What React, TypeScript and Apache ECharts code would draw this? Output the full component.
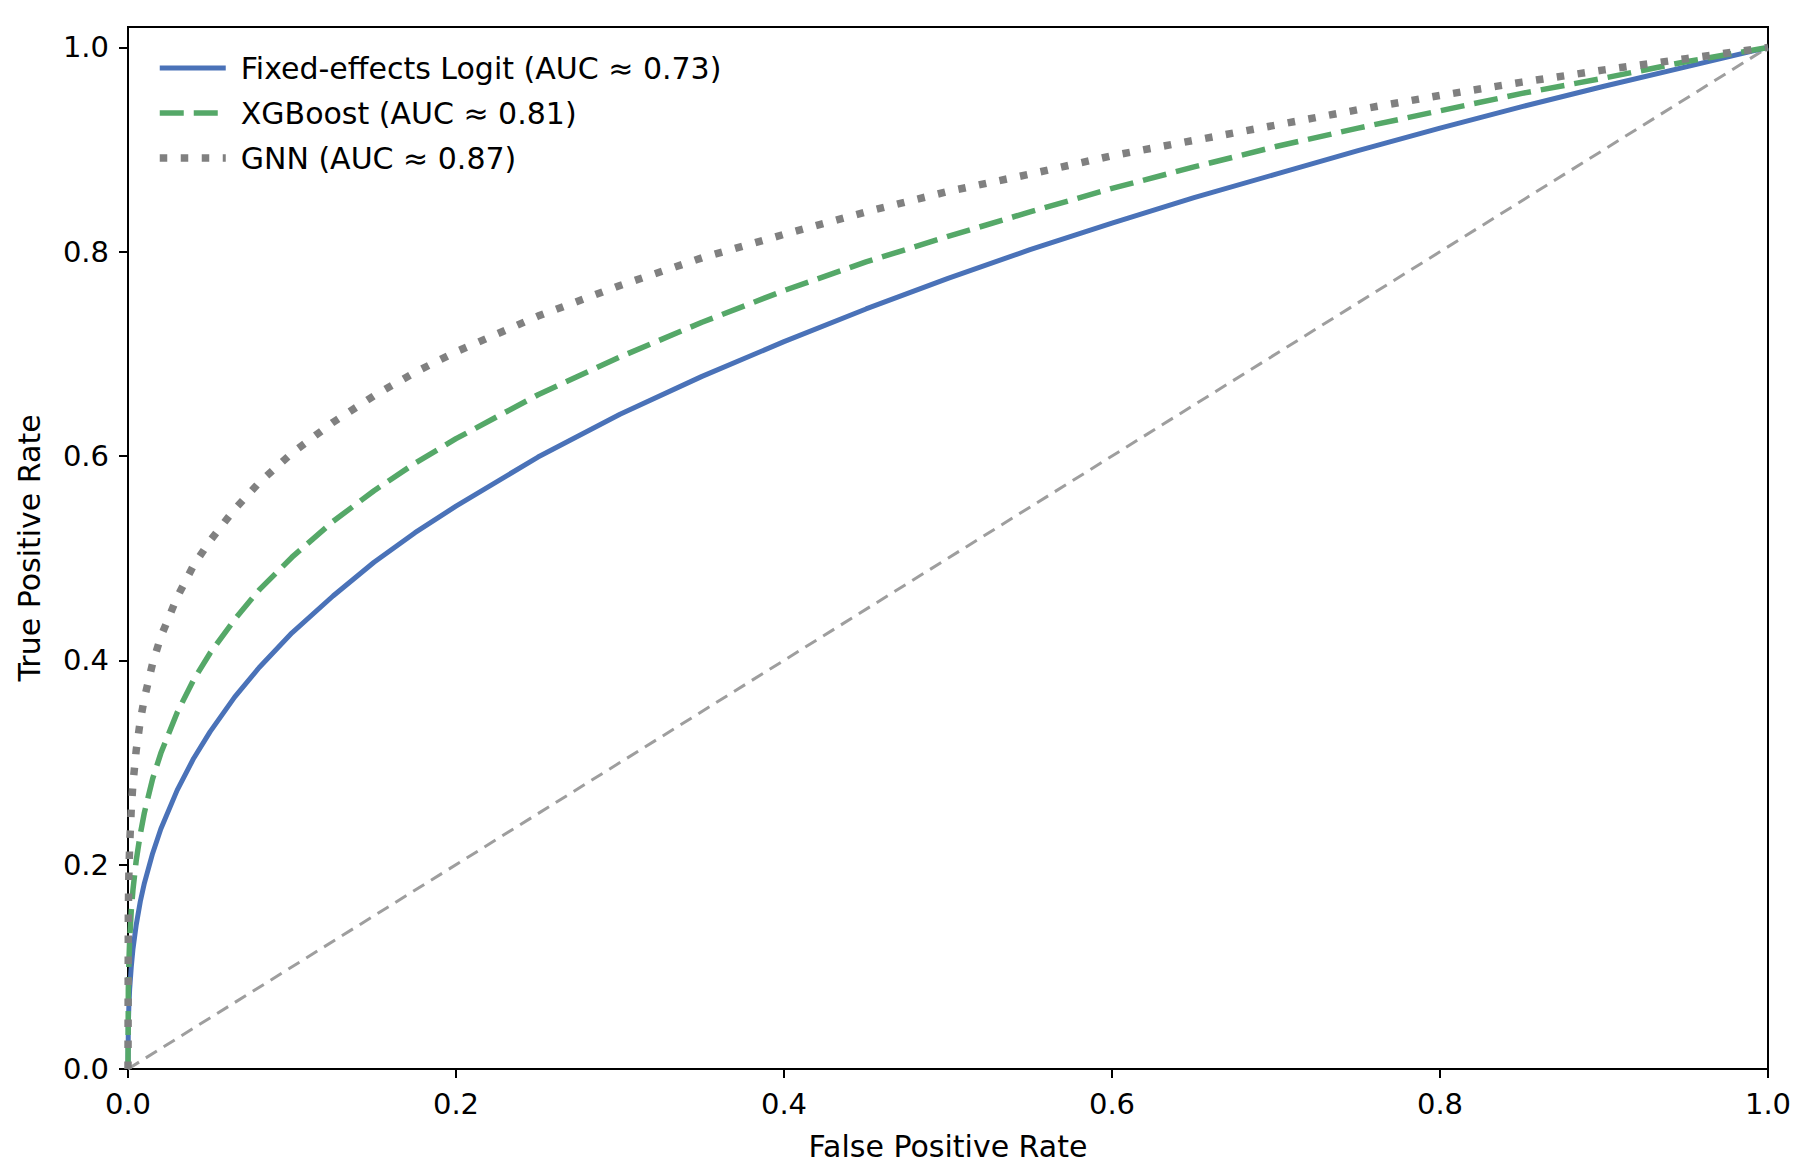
import { useEffect, useRef } from "react";
import * as echarts from "echarts";

// false positive rate grid shared by all curves (dense near 0 where the curves rise steeply)
const fpr = [
  0, 0.0002, 0.0005, 0.001, 0.002, 0.003, 0.005, 0.0075, 0.01, 0.015, 0.02, 0.03, 0.04, 0.05, 0.065, 0.08,
  0.1, 0.125, 0.15, 0.175, 0.2, 0.25, 0.3, 0.35, 0.4, 0.45, 0.5, 0.55, 0.6, 0.65, 0.7, 0.75, 0.8, 0.85, 0.9, 0.95, 1.0
];

const tprLogit = [
  0, 0.043, 0.06, 0.078, 0.1, 0.117, 0.141, 0.164, 0.182, 0.211, 0.235, 0.273, 0.304, 0.33, 0.364, 0.393,
  0.427, 0.463, 0.496, 0.525, 0.551, 0.599, 0.641, 0.678, 0.712, 0.744, 0.774, 0.802, 0.828, 0.853, 0.876, 0.899, 0.921, 0.942, 0.962, 0.981, 1.0
];
const tprXgb = [
  0, 0.078, 0.102, 0.126, 0.155, 0.175, 0.204, 0.23, 0.251, 0.284, 0.309, 0.349, 0.381, 0.407, 0.44, 0.469,
  0.501, 0.536, 0.566, 0.593, 0.617, 0.66, 0.697, 0.731, 0.762, 0.79, 0.815, 0.839, 0.862, 0.883, 0.903, 0.921, 0.938, 0.955, 0.97, 0.986, 1.0
];
const tprGnn = [
  0, 0.154, 0.188, 0.219, 0.255, 0.279, 0.312, 0.341, 0.363, 0.397, 0.423, 0.462, 0.493, 0.517, 0.548, 0.574,
  0.603, 0.633, 0.659, 0.682, 0.702, 0.737, 0.767, 0.794, 0.817, 0.839, 0.859, 0.876, 0.894, 0.909, 0.924, 0.939, 0.953, 0.966, 0.978, 0.989, 1.0
];

const chanceX = [0, 1];
const chanceY = [0, 1];

const tickValues = [0, 0.2, 0.4, 0.6, 0.8, 1.0];

const seriesNames = ["Fixed-effects Logit (AUC ≈ 0.73)", "XGBoost (AUC ≈ 0.81)", "GNN (AUC ≈ 0.87)"];

const colors = ["#4a72b8", "#55a868", "#808080"];

const font = "DejaVu Sans";

function pairs(xs: number[], ys: number[]) {
  return xs.map((x, i) => [x, ys[i]]);
}

export default function App() {
  const chartRef = useRef<HTMLDivElement | null>(null);

  useEffect(() => {
    if (!chartRef.current) {
      return;
    }

    const chart = echarts.init(chartRef.current, null, { renderer: "svg" });
    chart.setOption({
      animation: false,
      backgroundColor: "#ffffff",
      textStyle: { fontFamily: font },
      grid: {
        left: 128,
        right: 48,
        top: 27,
        bottom: 105,
        show: true,
        borderColor: "#000000",
        borderWidth: 2,
        backgroundColor: "transparent"
      },
      legend: {
        orient: "vertical",
        left: 151,
        top: 46,
        itemWidth: 66,
        itemHeight: 16,
        itemGap: 11,
        itemStyle: { opacity: 0 },
        lineStyle: { width: "inherit" },
        textStyle: {
          fontFamily: font,
          fontSize: 30,
          color: "#000000",
          lineHeight: 34,
          padding: [0, 0, 0, 10]
        },
        data: seriesNames
      },
      xAxis: {
        type: "value",
        min: 0,
        max: 1,
        interval: 0.2,
        name: "False Positive Rate",
        nameLocation: "middle",
        nameGap: 62,
        nameTextStyle: { fontFamily: font, fontSize: 30, color: "#000000" },
        axisLine: { show: true, lineStyle: { color: "#000000", width: 2 } },
        axisTick: { show: true, length: 9, lineStyle: { color: "#000000", width: 2 } },
        axisLabel: {
          color: "#000000",
          fontFamily: font,
          fontSize: 29,
          margin: 20,
          formatter: (v: number) => v.toFixed(1)
        },
        splitLine: { show: false }
      },
      yAxis: {
        type: "value",
        min: 0,
        max: 1.02,
        name: "True Positive Rate",
        nameLocation: "middle",
        nameGap: 84,
        nameTextStyle: { fontFamily: font, fontSize: 30, color: "#000000" },
        axisLine: { show: true, lineStyle: { color: "#000000", width: 2 } },
        axisTick: { show: true, length: 9, customValues: tickValues, lineStyle: { color: "#000000", width: 2 } },
        axisLabel: {
          color: "#000000",
          fontFamily: font,
          fontSize: 29,
          margin: 19,
          customValues: tickValues,
          formatter: (v: number) => v.toFixed(1)
        },
        splitLine: { show: false }
      },
      series: [
        {
          name: seriesNames[0],
          type: "line",
          data: pairs(fpr, tprLogit),
          showSymbol: false,
          symbol: "none",
          lineStyle: { color: colors[0], width: 5, cap: "butt" },
          itemStyle: { color: colors[0] },
          z: 3
        },
        {
          name: seriesNames[1],
          type: "line",
          data: pairs(fpr, tprXgb),
          showSymbol: false,
          symbol: "none",
          lineStyle: { color: colors[1], width: 5.5, type: [24, 10], cap: "butt" },
          itemStyle: { color: colors[1] },
          z: 3
        },
        {
          name: seriesNames[2],
          type: "line",
          data: pairs(fpr, tprGnn),
          showSymbol: false,
          symbol: "none",
          lineStyle: { color: colors[2], width: 7.5, type: [7.5, 13.5], cap: "butt" },
          itemStyle: { color: colors[2] },
          z: 3
        },
        {
          name: "chance",
          type: "line",
          data: pairs(chanceX, chanceY),
          showSymbol: false,
          symbol: "none",
          silent: true,
          lineStyle: { color: "#9e9e9e", width: 3, type: [13, 8] },
          z: 2
        }
      ]
    });

    return () => {
      chart.dispose();
    };
  }, []);

  return (
    <div
      ref={chartRef}
      style={{ position: "absolute", left: 0, top: 0, width: 1816, height: 1174, background: "#ffffff" }}
    />
  );
}
